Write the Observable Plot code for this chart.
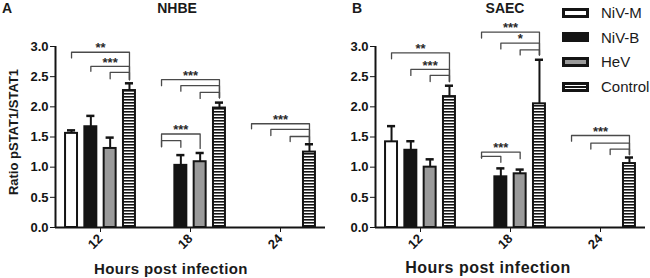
<!DOCTYPE html>
<html><head><meta charset="utf-8">
<script src="https://cdn.jsdelivr.net/npm/d3@7"></script>
<script src="https://cdn.jsdelivr.net/npm/@observablehq/plot@0.6"></script>
<style>
body{margin:0;background:#fff;font-family:"Liberation Sans",Arial,sans-serif;color:#1a1a1a;}
#wrap{position:relative;width:650px;height:278px;overflow:hidden;background:#fff;}
.abs{position:absolute;white-space:nowrap;}
.panel{position:absolute;top:0;}
.sw{position:absolute;width:21px;height:4px;border:3px solid #141414;}
</style></head><body>
<svg width="0" height="0" style="position:absolute">
<defs><pattern id="stripes" patternUnits="userSpaceOnUse" width="6" height="3"><rect width="6" height="3" fill="#fff"/><rect width="6" height="1.6" fill="#141414"/></pattern></defs></svg>
<div id="wrap"></div>
<script>
const hours = ["12", "18", "24"];
const series = ["NiV-M", "NiV-B", "HeV", "Control"];
const yTicks = [0, 0.5, 1, 1.5, 2, 2.5, 3];
// rows: series, columns: hours (null = no bar)
const nhbeMean = [[1.56, null, null], [1.67, 1.03, null], [1.31, 1.09, null], [2.27, 1.98, 1.25]];
const nhbeErr  = [[1.61, null, null], [1.85, 1.20, null], [1.49, 1.235, null], [2.39, 2.07, 1.38]];
const saecMean = [[1.42, null, null], [1.28, 0.84, null], [1.00, 0.89, null], [2.17, 2.05, 1.06]];
const saecErr  = [[1.68, null, null], [1.43, 0.98, null], [1.13, 0.96, null], [2.35, 2.78, 1.16]];
// significance brackets: [hour, from, to, level, fromDrop, toDrop, label]
const nhbeBrackets = [
  ["12", "NiV-M", "Control", 2.905, 2.81, 2.45, "**"],
  ["12", "NiV-B", "Control", 2.67, 2.59, 2.45, "***"],
  ["12", "HeV", "Control", 2.57, 2.465, 2.45, ""],
  ["18", "NiV-M", "Control", 2.45, 2.35, 2.15, "***"],
  ["18", "NiV-B", "Control", 2.35, 2.26, 2.15, ""],
  ["18", "HeV", "Control", 2.24, 2.14, 2.15, ""],
  ["18", "NiV-M", "HeV", 1.55, 1.34, 1.31, "***"],
  ["18", "NiV-M", "NiV-B", 1.44, 1.34, 1.33, ""],
  ["24", "NiV-M", "Control", 1.72, 1.636, 1.41, "***"],
  ["24", "NiV-B", "Control", 1.625, 1.525, 1.41, ""],
  ["24", "HeV", "Control", 1.508, 1.425, 1.41, ""]
];
const saecBrackets = [
  ["12", "NiV-M", "Control", 2.896, 2.796, 2.42, "**"],
  ["12", "NiV-B", "Control", 2.62, 2.52, 2.42, "***"],
  ["12", "HeV", "Control", 2.52, 2.42, 2.42, ""],
  ["18", "NiV-M", "Control", 3.237, 3.14, 2.86, "***"],
  ["18", "NiV-B", "Control", 3.055, 2.96, 2.86, "*"],
  ["18", "HeV", "Control", 2.945, 2.86, 2.86, ""],
  ["18", "NiV-M", "HeV", 1.25, 1.15, 1.14, "***"],
  ["18", "NiV-M", "NiV-B", 1.18, 1.15, 1.08, ""],
  ["24", "NiV-M", "Control", 1.525, 1.43, 1.21, "***"],
  ["24", "NiV-B", "Control", 1.40, 1.30, 1.21, ""],
  ["24", "HeV", "Control", 1.30, 1.21, 1.21, ""]
];
const fills = ["#ffffff", "#141414", "#9a9a9a", "url(#stripes)"];

const xLo = -0.83, xHi = 3.83, hw = 0.31, capHw = 0.21;

function tidy(means, errs) {
  const out = [];
  series.forEach((s, i) => hours.forEach((h, j) => {
    if (means[i][j] != null) out.push({series: s, i, hour: h, mean: means[i][j], err: errs[i][j]});
  }));
  return out;
}
function bracketPaths(brs) {
  const pts = [];
  brs.forEach((b, k) => {
    const [hour, from, to, level, fd, td] = b;
    const a = series.indexOf(from), c = series.indexOf(to);
    pts.push({k, hour, x: a, y: fd}, {k, hour, x: a, y: level}, {k, hour, x: c, y: level}, {k, hour, x: c, y: td});
  });
  return pts;
}
function bracketLabels(brs) {
  return brs.filter(b => b[6]).map(b => ({hour: b[0], x: (series.indexOf(b[1]) + series.indexOf(b[2])) / 2, y: b[3], label: b[6]}));
}

function panel(means, errs, brs) {
  const bars = tidy(means, errs);
  return Plot.plot({
    width: 325, height: 278,
    marginLeft: 55, marginRight: 0, marginTop: 46, marginBottom: 51,
    style: {fontFamily: "Liberation Sans, Arial, sans-serif", fontWeight: "bold", fontSize: "13px", background: "transparent", overflow: "visible", color: "#141414"},
    fx: {domain: hours, padding: 0},
    x: {domain: [xLo, xHi], axis: null},
    y: {domain: [0, 3]},
    color: {type: "ordinal", domain: series, range: fills},
    marks: [
      Plot.rectY(bars, {fx: "hour", x1: d => d.i - hw, x2: d => d.i + hw, y1: 0, y2: "mean", fill: "series", stroke: "#141414", strokeWidth: 2}),
      Plot.ruleX(bars, {fx: "hour", x: "i", y1: "mean", y2: "err", stroke: "#141414", strokeWidth: 2}),
      Plot.ruleY(bars, {fx: "hour", y: "err", x1: d => d.i - capHw, x2: d => d.i + capHw, stroke: "#141414", strokeWidth: 2.5}),
      Plot.line(bracketPaths(brs), {fx: "hour", x: "x", y: "y", z: "k", stroke: "#4a4a4a", strokeWidth: 1.3, curve: "linear"}),
      Plot.text(bracketLabels(brs), {fx: "hour", x: "x", y: "y", text: "label", dy: -4, fill: "#2a2a2a", fontSize: 13, fontWeight: "bold", style: "letter-spacing:1.5px"}),
      Plot.ruleY([0], {stroke: "#141414", strokeWidth: 2}),
      Plot.ruleX([hours[0]], {fx: d => d, x: () => xLo, y1: 0, y2: 3, stroke: "#141414", strokeWidth: 2}),
      Plot.axisY({ticks: yTicks, tickFormat: d => d.toFixed(1), tickSize: 5, tickPadding: 2, label: null, fontSize: 13, fontWeight: "bold"}),
      Plot.axisFx({anchor: "bottom", tickSize: 5, tickRotate: -45, tickPadding: 4, label: null, fontSize: 13, fontWeight: "bold"})
    ]
  });
}

const wrap = document.getElementById("wrap");
function place(el, left) { const d = document.createElement("div"); d.className = "panel"; d.style.left = left + "px"; d.appendChild(el); wrap.appendChild(d); }
place(panel(nhbeMean, nhbeErr, nhbeBrackets), 0);
place(panel(saecMean, saecErr, saecBrackets), 320);

function text(str, left, baseline, size, opts = {}) {
  const d = document.createElement("div");
  d.className = "abs";
  d.textContent = str;
  d.style.fontSize = size + "px";
  d.style.lineHeight = size + "px";
  d.style.top = (baseline - 0.846 * size) + "px";
  d.style.fontWeight = opts.weight || "bold";
  if (opts.spacing) d.style.letterSpacing = opts.spacing + "px";
  if (opts.center) { d.style.left = left + "px"; d.style.transform = "translateX(-50%)"; }
  else d.style.left = left + "px";
  wrap.appendChild(d);
  return d;
}
text("A", 2, 13, 14);
text("B", 352, 13, 14);
text("NHBE", 177, 12.7, 14, {center: true});
text("SAEC", 505, 12.7, 14, {center: true});
text("Hours post infection", 171, 274, 15, {center: true, spacing: 0.4});
text("Hours post infection", 488, 274, 16, {center: true, spacing: 0.5});
const yl = document.createElement("div");
yl.className = "abs";
yl.textContent = "Ratio pSTAT1/STAT1";
Object.assign(yl.style, {fontSize: "13px", lineHeight: "13px", fontWeight: "bold", left: "13px", top: "132px", transform: "translate(-50%,-50%) rotate(-90deg)"});
wrap.appendChild(yl);

// legend
const swFill = ["#ffffff", "#141414", "#9a9a9a", "linear-gradient(#fff 0 30%, #141414 30% 70%, #fff 70%)"];
const legendY = [12.5, 37, 61.7, 86.5];
series.forEach((s, i) => {
  const sw = document.createElement("div");
  sw.className = "sw";
  sw.style.left = "562px";
  sw.style.top = (legendY[i] - 5) + "px";
  sw.style.background = swFill[i];
  wrap.appendChild(sw);
  text(s, 601, legendY[i] + 5.3, 15, {weight: "normal"});
});
</script>
</body></html>
